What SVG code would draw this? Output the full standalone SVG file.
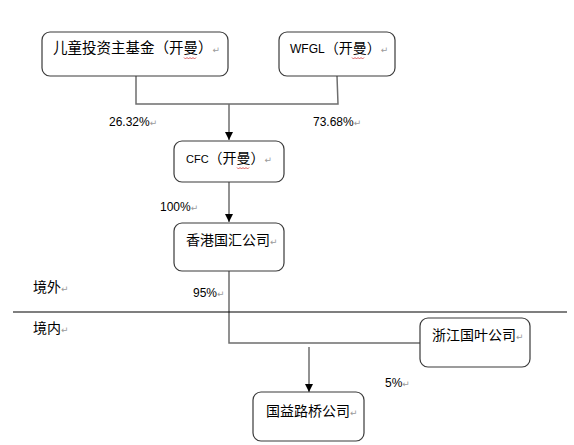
<svg xmlns="http://www.w3.org/2000/svg" width="574" height="445" viewBox="0 0 574 445">
  <style>
    .box { fill: #ffffff; stroke: #3a3a3a; stroke-width: 1.2; }
    .t { font-family: "Liberation Sans", "Noto Sans CJK SC", sans-serif; font-size: 14px; fill: #000; }
    .p { font-family: "Liberation Sans", "Noto Sans CJK SC", sans-serif; font-size: 12px; fill: #000; }
    .m { font-family: "DejaVu Sans", sans-serif; font-size: 9px; fill: #9a9a9a; }
    .c { fill: none; stroke: #6e6e6e; stroke-width: 1.5; }
    .div { stroke: #000; stroke-width: 1.2; }
    .sq { fill: none; stroke: #d03030; stroke-width: 0.8; }
  </style>
  <defs>
    <marker id="arr" markerWidth="8" markerHeight="8" refX="8" refY="4" orient="auto" markerUnits="userSpaceOnUse">
      <path d="M0,0 L8,4 L0,8 z" fill="#000"/>
    </marker>
  </defs>

  <g id="connectors">
    <path class="c" d="M136,76 V104 H338 L337,76"/>
    <line class="c" x1="229" y1="104" x2="229" y2="140" marker-end="url(#arr)"/>
    <line class="c" x1="229" y1="182" x2="229" y2="222" marker-end="url(#arr)"/>
    <path class="c" d="M229,271 V343 H420"/>
    <line class="c" x1="309" y1="347" x2="309" y2="392" marker-end="url(#arr)"/>
  </g>

  <g id="divider">
    <line class="div" x1="13" y1="312" x2="567" y2="312"/>
    <text class="t" x="33" y="292">境外<tspan class="m">↵</tspan></text>
    <text class="t" x="33" y="333">境内<tspan class="m">↵</tspan></text>
  </g>

  <g id="node-fund">
    <rect class="box" x="42" y="32" width="186" height="44" rx="8"/>
    <text class="t" x="53" y="53" style="font-size:14.5px">儿童投资主基金（开曼）<tspan class="m">↵</tspan></text>
    <path class="sq" d="M184,57.5 l1.5,1.5 l1.5,-1.5 l1.5,1.5 l1.5,-1.5 l1.5,1.5 l1.5,-1.5 l1.5,1.5 l1.5,-1.5"/>
  </g>

  <g id="node-wfgl">
    <rect class="box" x="279" y="32" width="116" height="44" rx="8"/>
    <text class="t" x="290" y="53"><tspan style="font-size:12px">WFGL</tspan>（开曼）<tspan class="m">↵</tspan></text>
    <path class="sq" d="M352,57.5 l1.5,1.5 l1.5,-1.5 l1.5,1.5 l1.5,-1.5 l1.5,1.5 l1.5,-1.5 l1.5,1.5 l1.5,-1.5"/>
  </g>

  <g id="node-cfc">
    <rect class="box" x="174" y="141" width="110" height="41" rx="8"/>
    <text class="t" x="186" y="163"><tspan style="font-size:11px">CFC</tspan>（开曼）<tspan class="m">↵</tspan></text>
    <path class="sq" d="M237,167.5 l1.5,1.5 l1.5,-1.5 l1.5,1.5 l1.5,-1.5 l1.5,1.5 l1.5,-1.5 l1.5,1.5 l1.5,-1.5"/>
  </g>

  <g id="node-hk">
    <rect class="box" x="174" y="223" width="110" height="48" rx="8"/>
    <text class="t" x="186" y="245">香港国汇公司<tspan class="m">↵</tspan></text>
  </g>

  <g id="node-zj">
    <rect class="box" x="420" y="318" width="110" height="49" rx="8"/>
    <text class="t" x="432" y="340">浙江国叶公司<tspan class="m">↵</tspan></text>
  </g>

  <g id="node-gy">
    <rect class="box" x="253" y="392" width="111" height="49" rx="8"/>
    <text class="t" x="266" y="416">国益路桥公司<tspan class="m">↵</tspan></text>
  </g>

  <g id="labels">
    <text class="p" x="109" y="126">26.32%<tspan class="m">↵</tspan></text>
    <text class="p" x="313" y="126">73.68%<tspan class="m">↵</tspan></text>
    <text class="p" x="160" y="211">100%<tspan class="m">↵</tspan></text>
    <text class="p" x="193" y="297">95%<tspan class="m">↵</tspan></text>
    <text class="p" x="385" y="387">5%<tspan class="m">↵</tspan></text>
  </g>
</svg>
